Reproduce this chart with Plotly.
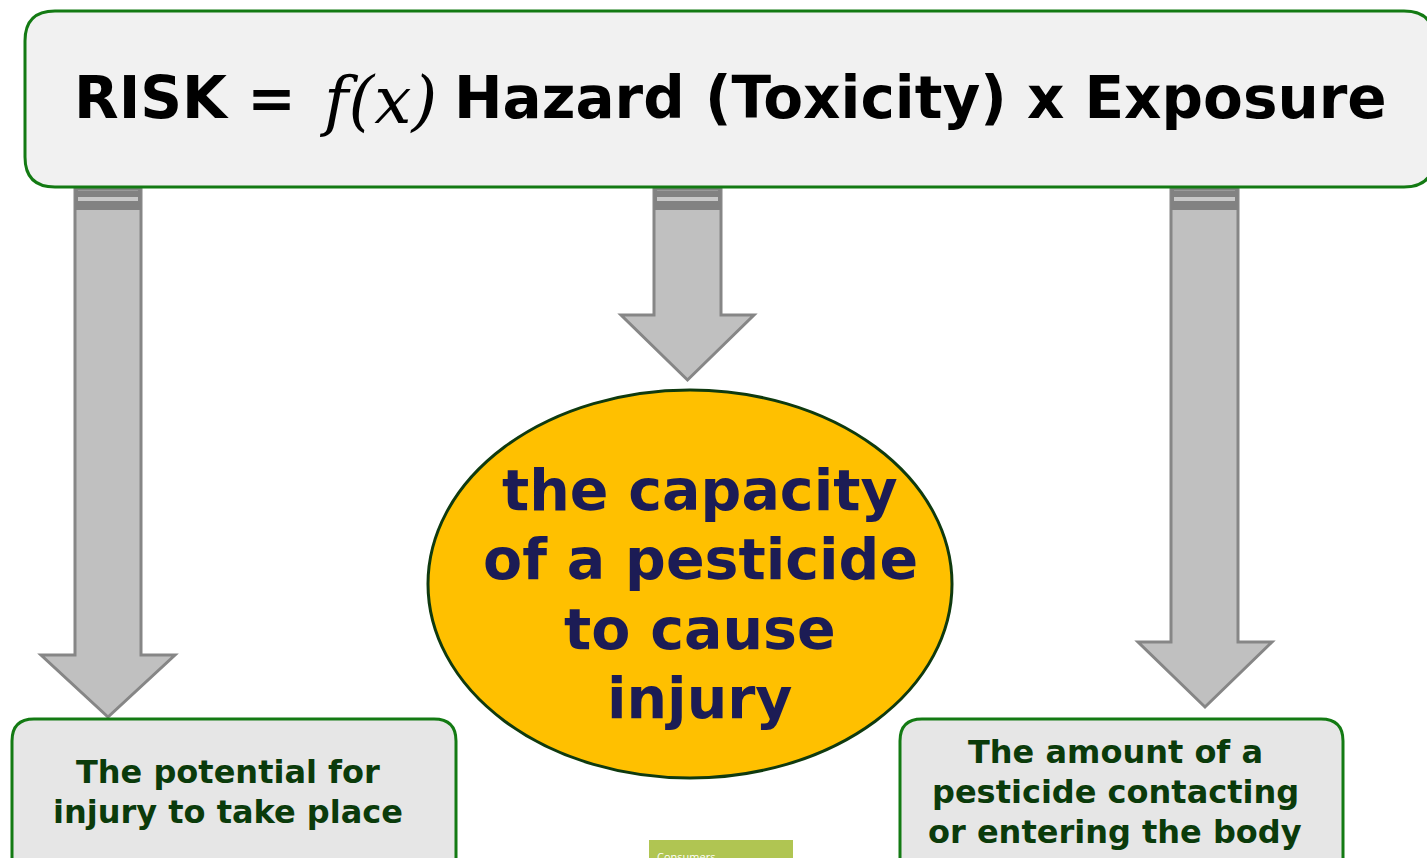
import plotly.graph_objects as go

# ---- content ----
title_left = "RISK ="
title_func = "f(x)"
title_right = "Hazard (Toxicity) x Exposure"
center_lines = ["the capacity", "of a pesticide", "to cause", "injury"]
left_lines = ["The potential for", "injury to take place"]
right_lines = ["The amount of a", "pesticide contacting", "or entering the body"]
footer_label = "Consumers"

W, H = 1427, 858
fig = go.Figure()

def rrect(x0, y0, x1, y1, r):
    return (f"M {x0+r},{y0} L {x1-r},{y0} Q {x1},{y0} {x1},{y0+r} "
            f"L {x1},{y1-r} Q {x1},{y1} {x1-r},{y1} L {x0+r},{y1} "
            f"Q {x0},{y1} {x0},{y1-r} L {x0},{y0+r} Q {x0},{y0} {x0+r},{y0} Z")

def arrow(xl, xr, ytop, yhead, hl, hr, ytip):
    xc = (hl + hr) / 2
    return (f"M {xl},{ytop} L {xr},{ytop} L {xr},{yhead} L {hr},{yhead} "
            f"L {xc},{ytip} L {hl},{yhead} L {xl},{yhead} Z")

GREEN = "#137a13"
shapes = []
arrows = [
    (75, 141, 187, 655, 41, 175, 717),
    (654, 721, 187, 315, 621, 754, 380),
    (1171, 1238, 187, 642, 1138, 1272, 707),
]
for (xl, xr, yt, yh, hl, hr, ytip) in arrows:
    shapes.append(dict(type="path", path=arrow(xl, xr, yt, yh, hl, hr, ytip),
                       fillcolor="#c0c0c0", line=dict(color="#868686", width=3), layer="below"))
    shapes.append(dict(type="rect", x0=xl, x1=xr, y0=yt, y1=yt + 23,
                       fillcolor="#828282", line=dict(width=0), layer="below"))
    shapes.append(dict(type="rect", x0=xl + 3, x1=xr - 3, y0=yt + 10, y1=yt + 14,
                       fillcolor="#c8c8c8", line=dict(width=0), layer="below"))
    shapes.append(dict(type="rect", x0=xl + 3, x1=xr - 3, y0=yt + 3, y1=yt + 4,
                       fillcolor="#999999", line=dict(width=0), layer="below"))

shapes.append(dict(type="path", path=rrect(25, 11, 1434, 187, 30),
                   fillcolor="#f1f1f1", line=dict(color=GREEN, width=3), layer="below"))
shapes.append(dict(type="circle", x0=428, x1=952, y0=390, y1=778,
                   fillcolor="#ffc000", line=dict(color="#0f3a0f", width=3), layer="below"))
shapes.append(dict(type="path", path=rrect(12, 719, 456, 880, 22),
                   fillcolor="#e6e6e6", line=dict(color=GREEN, width=3), layer="below"))
shapes.append(dict(type="path", path=rrect(900, 719, 1343, 880, 22),
                   fillcolor="#e6e6e6", line=dict(color=GREEN, width=3), layer="below"))
shapes.append(dict(type="rect", x0=649, x1=793, y0=840, y1=880,
                   fillcolor="#b0c552", line=dict(width=0), layer="below"))

ann = []
TF = "DejaVu Sans"
ann.append(dict(x=72, y=98, text=f"<b>{title_left}</b>", xanchor="left", yanchor="middle",
                font=dict(family=TF, size=58, color="#000000"), showarrow=False))
ann.append(dict(x=378, y=100, text=f"<i>{title_func}</i>", xanchor="center", yanchor="middle",
                font=dict(family="DejaVu Serif", size=66, color="#000000"), showarrow=False))
ann.append(dict(x=452, y=98, text=f"<b>{title_right}</b>", xanchor="left", yanchor="middle",
                font=dict(family=TF, size=58, color="#000000"), showarrow=False))

for t, y in zip(center_lines, [490, 559, 629, 698]):
    ann.append(dict(x=700, y=y, text=f"<b>{t}</b>", xanchor="center", yanchor="middle",
                    font=dict(family=TF, size=57, color="#1c1c55"), showarrow=False))
for t, y in zip(left_lines, [772, 812]):
    ann.append(dict(x=228, y=y, text=f"<b>{t}</b>", xanchor="center", yanchor="middle",
                    font=dict(family=TF, size=32, color="#0b3b0b"), showarrow=False))
for t, y in zip(right_lines, [752, 792, 832]):
    ann.append(dict(x=1115, y=y, text=f"<b>{t}</b>", xanchor="center", yanchor="middle",
                    font=dict(family=TF, size=32, color="#0b3b0b"), showarrow=False))
ann.append(dict(x=655, y=847, text=footer_label, xanchor="left", yanchor="top",
                font=dict(family="Open Sans", size=11, color="#ffffff"), showarrow=False))

fig.update_layout(
    width=W, height=H, margin=dict(l=0, r=0, t=0, b=0),
    paper_bgcolor="white", plot_bgcolor="white",
    xaxis=dict(range=[0, W], visible=False, fixedrange=True),
    yaxis=dict(range=[H, 0], visible=False, fixedrange=True),
    shapes=shapes, annotations=ann, showlegend=False,
)
fig.write_html("out.html", config={"displayModeBar": False},
               post_script="document.body.style.margin='0';document.body.style.overflow='hidden';")
